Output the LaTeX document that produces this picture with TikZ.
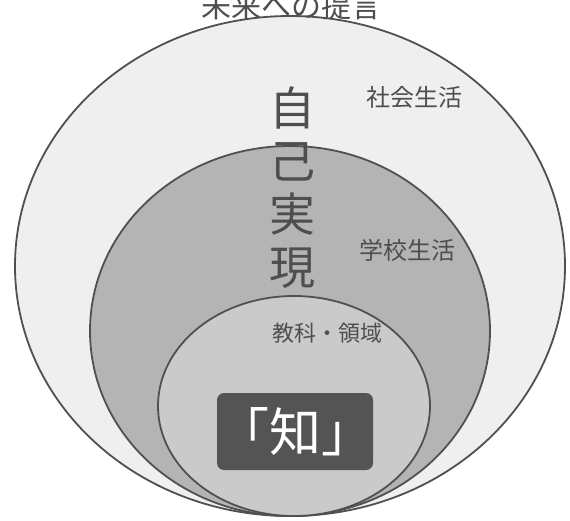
\documentclass[tikz,border=0pt]{standalone}
\usepackage{fontspec}
\newfontfamily\jfont{Noto Sans CJK JP}
\definecolor{outerfill}{HTML}{EFEFEF}
\definecolor{midfill}{HTML}{B4B4B4}
\definecolor{innerfill}{HTML}{CACACA}
\definecolor{edge}{HTML}{505050}
\definecolor{txt}{HTML}{4E4E4E}
\definecolor{boxfill}{HTML}{545454}
\tikzset{
  ring/.style={draw=edge, line width=1.8pt},
  lbl/.style={text=txt, inner sep=0pt, font=\jfont\fontsize{#1}{#1}\selectfont},
}
\begin{document}
\begin{tikzpicture}[x=1pt,y=-1pt]
\useasboundingbox (0,0) rectangle (570,520);
\clip (0,0) rectangle (570,520);
\fill[white] (0,0) rectangle (570,520);
\draw[ring, fill=outerfill] (290,266) ellipse [x radius=275, y radius=250];
\draw[ring, fill=midfill] (290,331) ellipse [x radius=200, y radius=185];
\draw[ring, fill=innerfill] (294,406) ellipse [x radius=136, y radius=110];
\node[fill=boxfill, rounded corners=7pt, minimum width=156pt, minimum height=77pt, inner sep=0pt] (box) at (295,431.5) {};
\node[inner sep=0pt, text=white, font=\jfont\fontsize{52}{52}\selectfont] (chi) at (box.center) {「知」};
\node[lbl=30] (title) at (291,6) {未来への提言};
\node[lbl=24] (shakai) at (414,97) {社会生活};
\node[lbl=24] (gakkou) at (407,250) {学校生活};
\node[lbl=22] (kyouka) at (327,333) {教科・領域};
\node[lbl=46, align=center, font=\jfont\fontsize{46}{53}\selectfont] (jiko) at (292,188) {自\\己\\実\\現};
\end{tikzpicture}
\end{document}
